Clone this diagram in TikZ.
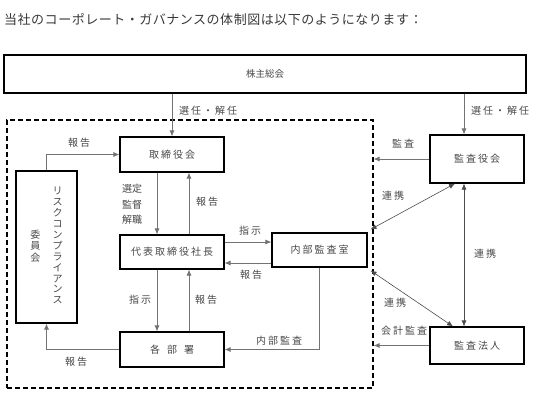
\documentclass[tikz,border=0pt]{standalone}
\usepackage{fontspec}
\newfontfamily\jptitle[LetterSpace=4]{Noto Sans CJK JP}
\newfontfamily\jpfont[LetterSpace=20]{Noto Sans CJK JP}
\newfontfamily\jptight{Noto Sans CJK JP}
\newfontfamily\jpwide[LetterSpace=70]{Noto Sans CJK JP}
\usetikzlibrary{arrows.meta}

\begin{document}
\begin{tikzpicture}[x=1pt, y=-1pt,
    organ/.style ={draw, line width=1.1pt, inner sep=0pt, text=black!72, font=\jpfont\fontsize{10}{12}\selectfont},
    note/.style ={inner sep=0pt, text=black!72, font=\jpfont\fontsize{10}{12}\selectfont},
    relation/.style ={draw=black!55, line width=0.8pt, -{Latex[length=6pt,width=5pt]}},
    mutual/.style ={draw=black!70, line width=0.6pt, {Latex[length=6pt,width=5pt]}-{Latex[length=6pt,width=5pt]}}]
   \useasboundingbox (0,0) rectangle (533,400);

   \node[anchor=west, inner sep=0pt, text=black!78, font=\jptitle\fontsize{13}{15}\selectfont] (title) at (4,20) {当社のコーポレート・ガバナンスの体制図は以下のようになります：};

   \node[organ, minimum width=522, minimum height=38, font=\jptight\fontsize{9.5}{11}\selectfont] (share) at (265,74) {株主総会};
   \node[draw, line width=1.1pt, dash pattern=on 5pt off 3pt, minimum width=366, minimum height=268] (group) at (190,254) {};
   \node[organ, minimum width=104, minimum height=35] (board) at (172,154.5) {取締役会};
   \node[organ, minimum width=104, minimum height=34] (pres)  at (172,252) {代表取締役社長};
   \node[organ, minimum width=104, minimum height=35, font=\jpwide\fontsize{10}{12}\selectfont] (depts) at (172,349.5) {各部署};
   \node[organ, minimum width=95, minimum height=34]  (audit) at (319.5,250) {内部監査室};
   \node[organ, minimum width=94, minimum height=48]  (kansa) at (477,159) {監査役会};
   \node[organ, minimum width=94, minimum height=37]  (acct)  at (477,345.5) {監査法人};
   \node[organ, minimum width=61, minimum height=152, font=\jptight\fontsize{10}{10.7}\selectfont] (risk) at (46.5,247)
      {\begin{tabular}{@{}c@{}}委\\員\\会\end{tabular}\hspace{12pt}\begin{tabular}{@{}c@{}}リ\\ス\\ク\\コ\\ン\\プ\\ラ\\イ\\ア\\ン\\ス\end{tabular}\hspace{6pt}};

   \coordinate (kx) at (464,0);

   \draw[relation] (share.south -| board.north) to (board.north);
   \draw[relation] (share.south -| kx) to (kansa.north -| kx);
   \draw[relation] (risk.north) |- (board.west);
   \draw[relation] ([xshift=-15pt]board.south) to ([xshift=-15pt]pres.north);
   \draw[relation] ([xshift=17pt]pres.north) to ([xshift=17pt]board.south);
   \draw[relation] ([xshift=-15pt]pres.south) to ([xshift=-15pt]depts.north);
   \draw[relation] ([xshift=17pt]depts.north) to ([xshift=17pt]pres.south);
   \draw[relation] ([yshift=10pt]pres.east) to ([yshift=10pt]pres.east -| audit.west);
   \draw[relation] ([yshift=-11pt]pres.east -| audit.west) to ([yshift=-11pt]pres.east);
   \draw[relation] (depts.west) -| (risk.south);
   \draw[relation] (audit.south) |- (depts.east);
   \draw[relation] (kansa.west) to (kansa.west -| group.east);
   \draw[relation] (acct.west) to (acct.west -| group.east);
   \draw[mutual] ([shift={(3pt,3pt)}]audit.north east) to ([xshift=-22pt]kansa.south);
   \draw[mutual] ([shift={(3pt,-3pt)}]audit.south east) to ([xshift=-24pt]acct.north);
   \draw[mutual] (kansa.south -| kx) to (acct.north -| kx);

   \node[note] (n1)  at (208,111) {選任・解任};
   \node[note] (n2)  at (500,111) {選任・解任};
   \node[note] (n3)  at (79,143)  {報告};
   \node[note, align=center, font=\jptight\fontsize{10}{15.5}\selectfont] (n4) at (132,204.5) {選定\\監督\\解職};
   \node[note] (n5)  at (207,202) {報告};
   \node[note] (n6)  at (250,231) {指示};
   \node[note] (n7)  at (251,275) {報告};
   \node[note] (n8)  at (140,300) {指示};
   \node[note] (n9)  at (206,300) {報告};
   \node[note] (n10) at (76,362)  {報告};
   \node[note] (n11) at (279,341) {内部監査};
   \node[note] (n12) at (403,144) {監査};
   \node[note] (n13) at (393,196) {連携};
   \node[note] (n14) at (485,254) {連携};
   \node[note] (n15) at (395,303) {連携};
   \node[note] (n16) at (404,331) {会計監査};
 \end{tikzpicture}
\end{document}
